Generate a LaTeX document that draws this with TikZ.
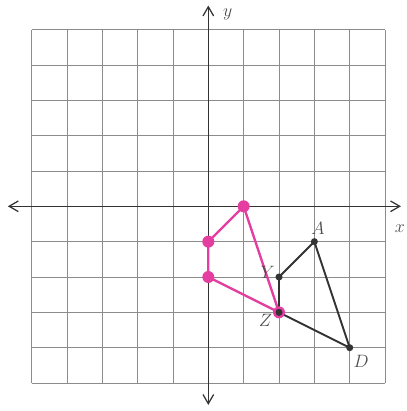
\documentclass[tikz,border=0pt]{standalone}
\usepackage{tikz}
\usetikzlibrary{arrows.meta}
\definecolor{hilite}{RGB}{228,62,160}

\begin{document}
\begin{tikzpicture}[
  gridln/.style={draw=gray!90, line width=0.6pt},
  axis/.style={{Straight Barb[length=2.6mm,width=3mm]}-{Straight Barb[length=2.6mm,width=3mm]}, line width=1pt, draw=black!80},
  pinkedge/.style={draw=hilite, line width=1.9pt, line join=round},
  darkedge/.style={draw=black!80, line width=1.5pt, line join=round},
  pinkdot/.style={circle, fill=hilite, inner sep=0pt, minimum size=3.4mm},
  darkdot/.style={circle, fill=black!80, inner sep=0pt, minimum size=2mm},
  lbl/.style={font=\fontsize{14}{16}\selectfont, text=black!70}]
\useasboundingbox (-5.893,-5.791) rectangle (5.593,5.836);
% grid
\draw[gridln] (-5,-5) grid (5,5);
% axes
\coordinate (xl) at (-5.67,0);
\coordinate (xr) at (5.45,0);
\coordinate (yb) at (0,-5.62);
\coordinate (yt) at (0,5.68);
\draw[axis] (xl) -- (xr);
\draw[axis] (yb) -- (yt);
\node[lbl] (ylab) at (0.55,5.42) {$y$};
\node[lbl] (xlab) at (5.42,-0.62) {$x$};
% pink figure
\coordinate (p1) at (1,0);
\coordinate (p2) at (0,-1);
\coordinate (p3) at (0,-2);
\coordinate (p4) at (2,-3);
\draw[pinkedge] (p1) -- (p2) -- (p3) -- (p4) -- cycle;
% dark figure
\coordinate (Y) at (2,-2);
\coordinate (A) at (3,-1);
\coordinate (D) at (4,-4);
\coordinate (Z) at (2,-3);
\draw[darkedge] (Y) -- (A) -- (D) -- (Z) -- cycle;
\foreach \p in {p1,p2,p3,p4} \node[pinkdot] at (\p) {};
\foreach \p in {Y,A,D,Z} \node[darkdot] at (\p) {};
% labels
\node[lbl] (labA) at (3.1,-0.62) {$A$};
\node[lbl] (labY) at (1.68,-1.88) {$Y$};
\node[lbl] (labZ) at (1.62,-3.22) {$Z$};
\node[lbl] (labD) at (4.32,-4.4) {$D$};
\end{tikzpicture}
\end{document}
